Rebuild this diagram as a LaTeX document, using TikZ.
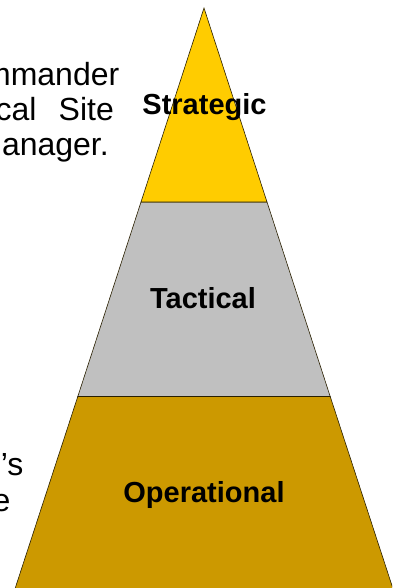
\documentclass[tikz,border=0pt]{standalone}
\usepackage{fontspec}
\setmainfont{Liberation Sans}
\definecolor{stratc}{HTML}{FFCC00}
\definecolor{tactc}{HTML}{C0C0C0}
\definecolor{operc}{HTML}{CC9900}
\begin{document}
\begin{tikzpicture}[x=1pt,y=-1pt,
  band/.style={draw=black!80!operc,line width=0.6pt,line join=miter},
  lvl/.style={inner sep=0pt,anchor=base,font=\fontsize{29}{33}\selectfont\bfseries},
  body/.style={inner sep=0pt,font=\fontsize{32}{36}\selectfont}]
\useasboundingbox (0,0) rectangle (392,588);
\clip (0,0) rectangle (392,588);
\coordinate (apex) at (204,8);
\coordinate (sl) at (141,202);
\coordinate (sr) at (267,202);
\coordinate (tl) at (77.8,396.5);
\coordinate (tr) at (330.2,396.5);
\coordinate (bl) at (14.6,590);
\coordinate (br) at (393.4,590);
\filldraw[band,fill=operc] (tl) -- (tr) -- (br) -- (bl) -- cycle;
\filldraw[band,fill=tactc] (sl) -- (sr) -- (tr) -- (tl) -- cycle;
\filldraw[band,fill=stratc] (apex) -- (sr) -- (sl) -- cycle;
\node[lvl] (strat) at (204.5,115) {Strategic};
\node[lvl] (tact) at (203,308) {Tactical};
\node[lvl] (oper) at (204,502) {Operational};
\node[body,anchor=base east] (l1) at (119.5,86) {mmander};
\node[body,anchor=base west] (l2a) at (-4.5,121) {cal};
\node[body,anchor=base east] (l2b) at (114,121) {Site};
\node[body,anchor=base east] (l3) at (109,156) {anager.};
\node[body,anchor=base east] (l4) at (23.5,475) {’s};
\node[body,anchor=base east] (l5) at (10.5,511) {e};
\end{tikzpicture}
\end{document}
